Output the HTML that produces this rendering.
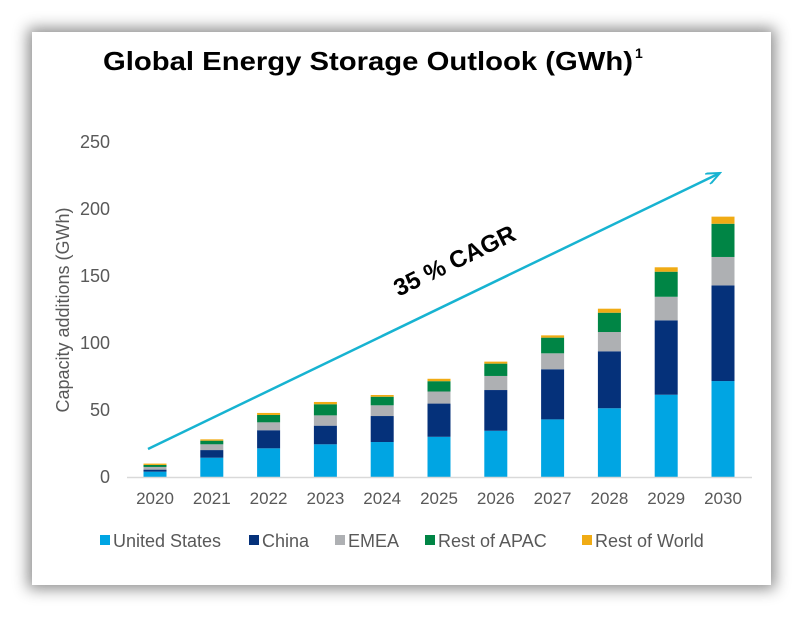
<!DOCTYPE html>
<html><head><meta charset="utf-8"><style>
html,body{margin:0;padding:0;background:#fff;}
#wrap{position:relative;width:803px;height:617px;overflow:hidden;background:#fff;}
#card{position:absolute;left:32px;top:32px;width:739px;height:553px;background:#fff;box-shadow:0 0 14px 4px rgba(0,0,0,0.45);}
svg{position:absolute;left:0;top:0;}
text{font-family:"Liberation Sans",Arial,sans-serif;}
</style></head><body>
<div id="wrap">
<div id="card"></div>
<svg id="chart" width="803" height="617">
<defs><marker id="ah" markerWidth="16" markerHeight="12" refX="14" refY="6" orient="auto" markerUnits="userSpaceOnUse"><path d="M0,0 L14,6 L0,12" fill="none" stroke="#17b3d1" stroke-width="2"/></marker></defs>
<text x="103" y="70" font-size="26" font-weight="bold" fill="#000" textLength="530" lengthAdjust="spacingAndGlyphs">Global Energy Storage Outlook (GWh)</text>
<text x="635" y="58" font-size="14" font-weight="bold" fill="#000">1</text>
<text transform="translate(69,310) rotate(-90)" text-anchor="middle" font-size="18" fill="#595959">Capacity additions (GWh)</text>
<g id="yticks"></g><g id="bars"></g><g id="xticks"></g>
<line x1="127" y1="477.5" x2="752" y2="477.5" stroke="#d9d9d9" stroke-width="1.5"/>
<line x1="148" y1="449" x2="720" y2="173" stroke="#17b3d1" stroke-width="2.5" marker-end="url(#ah)"/>
<text transform="translate(458,268) rotate(-25.8)" text-anchor="middle" font-size="24" font-weight="bold" fill="#000">35 % CAGR</text>
<g id="legend"></g>
</svg>
</div>
<script>
const years=["2020","2021","2022","2023","2024","2025","2026","2027","2028","2029","2030"];
const unitedStates=[4,14.4,21.4,24.4,26.1,30,34.5,43,51.3,61.4,71.6];
const china=[1.5,5.7,13.5,13.9,19.4,24.8,30.4,37.4,42.5,55.5,71.4];
const emea=[2,4.3,5.9,7.7,8,9,10.5,11.9,14.4,17.6,21.2];
const restOfApac=[1.5,2.7,5.5,8.3,6.4,7.7,9.2,11.7,14.4,18.7,24.8];
const restOfWorld=[1,1,1.5,1.7,1.3,1.8,1.5,1.7,3,3.3,5.3];
const yTicks=[0,50,100,150,200,250];
const seriesNames=["United States","China","EMEA","Rest of APAC","Rest of World"];
const seriesColors=["#00a5e3","#05317a","#aeb0b3","#008545","#f0ab14"];
const series=[unitedStates,china,emea,restOfApac,restOfWorld];
const NS="http://www.w3.org/2000/svg";
const y0=477,yPx=335/250;
function yS(v){return y0-v*yPx;}
function xS(i){return 155+i*56.8;}
const bw=23;
const gy=document.getElementById('yticks');
yTicks.forEach(t=>{
 const e=document.createElementNS(NS,'text');
 
 
 e.setAttribute('x',110);e.setAttribute('y',yS(t)+6);e.setAttribute('text-anchor','end');
 e.setAttribute('font-size','18');e.setAttribute('fill','#595959');e.textContent=t;gy.appendChild(e);
});
const gb=document.getElementById('bars');
years.forEach((yr,i)=>{
 let cum=0;
 series.forEach((s,k)=>{
  const r=document.createElementNS(NS,'rect');
  
  
  r.setAttribute('x',xS(i)-bw/2);r.setAttribute('y',yS(cum+s[i]));
  r.setAttribute('width',bw);r.setAttribute('height',s[i]*yPx);r.setAttribute('fill',seriesColors[k]);
  gb.appendChild(r);cum+=s[i];
 });
});
const gx=document.getElementById('xticks');
years.forEach((yr,i)=>{
 const e=document.createElementNS(NS,'text');
 
 
 e.setAttribute('x',xS(i));e.setAttribute('y',504);e.setAttribute('text-anchor','middle');
 e.setAttribute('font-size','17');e.setAttribute('fill','#595959');e.textContent=yr;gx.appendChild(e);
});
const gl=document.getElementById('legend');
const lx=[100,249,335,425,582];
seriesNames.forEach((n,k)=>{
 const r=document.createElementNS(NS,'rect');
 
 
 r.setAttribute('x',lx[k]);r.setAttribute('y',535);r.setAttribute('width',10);r.setAttribute('height',10);r.setAttribute('fill',seriesColors[k]);
 gl.appendChild(r);
 const t=document.createElementNS(NS,'text');
 
 
 t.setAttribute('x',lx[k]+13);t.setAttribute('y',547);t.setAttribute('font-size','18');t.setAttribute('fill','#595959');t.textContent=n;
 gl.appendChild(t);
});
</script>
</body></html>
